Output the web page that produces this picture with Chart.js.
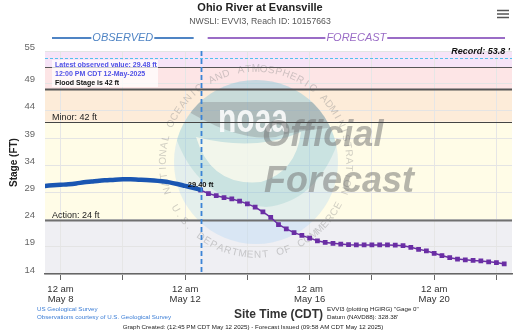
<!DOCTYPE html>
<html>
<head>
<meta charset="utf-8">
<title>Ohio River at Evansville</title>
<script src="https://cdn.jsdelivr.net/npm/chart.js@4.4.1/dist/chart.umd.min.js"></script>
<style>
  html, body { margin: 0; padding: 0; background: #fff; }
  #wrap { position: relative; width: 521px; height: 332px; }
</style>
</head>
<body>
<div id="wrap"><canvas id="stage-chart" width="521" height="332"></canvas></div>
<script>
// Hours after 12 am May 8 2025 (CDT)
const obsHours = [-12, -6, 0, 6, 12, 18, 24, 30, 36, 42, 48, 54, 60, 66, 72, 78, 84, 90, 96, 102, 108];
const obsStage = [30.2, 30.3, 30.4, 30.5, 30.65, 30.85, 31.0, 31.15, 31.25, 31.35, 31.4, 31.4, 31.35, 31.3, 31.2, 31.05, 30.85, 30.55, 30.2, 29.85, 29.48];

const fcstHours = [108, 114, 120, 126, 132, 138, 144, 150, 156, 162, 168, 174, 180, 186, 192, 198, 204, 210, 216, 222,
                   228, 234, 240, 246, 252, 258, 264, 270, 276, 282, 288, 294, 300, 306, 312, 318, 324, 330, 336, 342];
const fcstStage = [29.4, 28.8, 28.4, 28.05, 27.8, 27.4, 26.9, 26.3, 25.4, 24.4, 23.1, 22.3, 21.6, 21.1, 20.6, 20.1, 19.8, 19.65, 19.5, 19.4,
                   19.35, 19.35, 19.35, 19.35, 19.35, 19.3, 19.2, 18.9, 18.55, 18.25, 17.8, 17.4, 17.0, 16.75, 16.6, 16.5, 16.4, 16.25, 16.1, 15.85];

const yTicks = [14, 19, 24, 29, 34, 39, 44, 49, 55];
const xTickHours = [0, 48, 96, 144, 192, 240, 288, 336];

const floodCats = ['Action', 'Minor', 'Moderate', 'Major'];
const floodStages = [24, 42, 48, 52];
const labeledCats = ['Action', 'Minor'];
const recordStage = 53.8;
const bandEdges = [14, 24, 42, 48, 52, 55];

const latestObs = { value: 29.48, when: '12:00 PM CDT 12-May-2025' };

const FONT = "'Liberation Sans', Arial, sans-serif";
const BLUE = '#1a56b2';
const PURPLE = '#6a2ea4';
const bandFill = ['#efeff3', '#fffce7', '#fdecd9', '#fde5e6', '#f6e4f7'];
const lineStyle = [
  { color: '#707070', width: 2.2 },
  { color: '#444', width: 1.2 },
  { color: '#555', width: 1.8 },
  { color: '#555', width: 1.2 }
];

Chart.defaults.font.family = FONT;

function arcText(ctx, text, cx, cy, r, startDeg, endDeg, outward) {
  const step = (endDeg - startDeg) / (text.length - 1);
  for (let i = 0; i < text.length; i++) {
    const a = (startDeg + step * i) * Math.PI / 180;
    ctx.save();
    ctx.translate(cx + r * Math.cos(a), cy + r * Math.sin(a));
    ctx.rotate(outward ? a + Math.PI / 2 : a - Math.PI / 2);
    ctx.fillText(text[i], 0, 0);
    ctx.restore();
  }
}

// faded NOAA seal behind the hydrograph
function drawSeal(ctx, cx, cy) {
  const r = 82;
  ctx.save();
  ctx.beginPath();
  ctx.arc(cx, cy, r, 0, Math.PI * 2);
  ctx.clip();
  ctx.fillStyle = 'rgba(170,210,245,0.32)';
  ctx.fillRect(cx - r, cy - r, 2 * r, 2 * r);
  // teal wave
  ctx.fillStyle = 'rgba(110,185,185,0.22)';
  ctx.beginPath();
  ctx.moveTo(cx - r, cy - 30);
  ctx.quadraticCurveTo(cx - 60, cy + 40, cx + 10, cy + 45);
  ctx.quadraticCurveTo(cx + 60, cy + 40, cx + r, cy - 20);
  ctx.lineTo(cx + r, cy - r);
  ctx.lineTo(cx - r, cy - r);
  ctx.closePath();
  ctx.fill();
  // light gull body
  ctx.fillStyle = 'rgba(255,252,238,0.75)';
  ctx.beginPath();
  ctx.moveTo(cx - 60, cy - 25);
  ctx.quadraticCurveTo(cx - 45, cy + 25, cx + 5, cy + 20);
  ctx.quadraticCurveTo(cx + 40, cy + 10, cx + 45, cy - 30);
  ctx.quadraticCurveTo(cx, cy - 10, cx - 60, cy - 25);
  ctx.fill();
  // grey sky
  ctx.fillStyle = 'rgba(120,120,125,0.32)';
  ctx.beginPath();
  ctx.moveTo(cx - r, cy - 60);
  ctx.lineTo(cx + r, cy - 60);
  ctx.lineTo(cx + r, cy - 35);
  ctx.quadraticCurveTo(cx + 30, cy - 30, cx + 20, cy - 25);
  ctx.quadraticCurveTo(cx - 20, cy - 20, cx - 75, cy - 55);
  ctx.closePath();
  ctx.fill();
  ctx.restore();

  ctx.save();
  ctx.fillStyle = 'rgba(255,255,255,0.85)';
  ctx.font = `bold 30px ${FONT}`;
  ctx.textAlign = 'center';
  ctx.textBaseline = 'alphabetic';
  ctx.translate(cx - 3, cy - 30);
  ctx.scale(1, 1.35);
  ctx.fillText('noaa', 0, 0);
  ctx.restore();

  ctx.save();
  ctx.fillStyle = 'rgba(140,140,140,0.42)';
  ctx.font = `10px ${FONT}`;
  ctx.textAlign = 'center';
  ctx.textBaseline = 'middle';
  arcText(ctx, 'NATIONAL OCEANIC AND ATMOSPHERIC ADMINISTRATION', cx, cy, 93, 162, 378, true);
  arcText(ctx, 'U.S. DEPARTMENT OF COMMERCE', cx, cy, 93, 150, 28, false);
  ctx.restore();
}

const backdrop = {
  id: 'backdrop',
  beforeDraw(chart) {
    const { ctx, chartArea: a, scales: { y } } = chart;
    ctx.save();
    for (let i = 0; i < bandFill.length; i++) {
      const top = y.getPixelForValue(bandEdges[i + 1]);
      const bot = y.getPixelForValue(bandEdges[i]);
      ctx.fillStyle = bandFill[i];
      ctx.fillRect(a.left, top, a.right - a.left, bot - top);
    }
    ctx.restore();
  },
  beforeDatasetsDraw(chart) {
    const { ctx, chartArea: a, scales: { y } } = chart;
    drawSeal(ctx, 256, 162);

    ctx.save();
    ctx.fillStyle = 'rgba(115,115,115,0.52)';
    ctx.font = `italic bold 36px ${FONT}`;
    ctx.textBaseline = 'alphabetic';
    ctx.fillText('Official', 262, 146);
    ctx.fillText('Forecast', 264, 192);
    ctx.restore();

    // flood category lines
    ctx.save();
    floodStages.forEach((s, i) => {
      const py = Math.round(y.getPixelForValue(s)) + 0.5;
      ctx.strokeStyle = lineStyle[i].color;
      ctx.lineWidth = lineStyle[i].width;
      ctx.beginPath();
      ctx.moveTo(a.left, py);
      ctx.lineTo(a.right, py);
      ctx.stroke();
      if (labeledCats.includes(floodCats[i])) {
        ctx.fillStyle = '#222';
        ctx.font = `9px ${FONT}`;
        ctx.textBaseline = 'bottom';
        ctx.fillText(`${floodCats[i]}: ${s} ft`, a.left + 7, py - 0.5);
      }
    });

    // latest observation note
    ctx.fillStyle = 'rgba(255,255,255,0.72)';
    ctx.fillRect(a.left + 7, 60, 106, 27);
    ctx.textBaseline = 'middle';
    ctx.font = `bold 7px ${FONT}`;
    ctx.fillStyle = '#5050e6';
    ctx.fillText(`Latest observed value: ${latestObs.value.toFixed(2)} ft`, a.left + 10, 65);
    ctx.fillText(latestObs.when, a.left + 10, 74);
    ctx.fillStyle = '#111';
    ctx.fillText(`Flood Stage is ${floodStages[floodCats.indexOf('Minor')]} ft`, a.left + 10, 83);

    // record crest
    const ry = Math.round(y.getPixelForValue(recordStage)) + 0.5;
    ctx.strokeStyle = '#52c0ee';
    ctx.lineWidth = 1.2;
    ctx.setLineDash([3, 2]);
    ctx.beginPath();
    ctx.moveTo(a.left, ry);
    ctx.lineTo(a.right, ry);
    ctx.stroke();
    ctx.setLineDash([]);
    ctx.fillStyle = '#111';
    ctx.font = `italic bold 9px ${FONT}`;
    ctx.textAlign = 'right';
    ctx.fillText(`Record: ${recordStage} '`, a.right - 2, 52);
    ctx.restore();
  },
  afterDatasetsDraw(chart) {
    const { ctx, chartArea: a, scales: { x } } = chart;
    ctx.save();
    const vx = Math.round(x.getPixelForValue(obsHours[obsHours.length - 1])) + 0.5;
    ctx.strokeStyle = '#3b84d6';
    ctx.lineWidth = 1.8;
    ctx.setLineDash([5, 3]);
    ctx.beginPath();
    ctx.moveTo(vx, a.top);
    ctx.lineTo(vx, a.bottom);
    ctx.stroke();
    ctx.setLineDash([]);

    const pt = chart.getDatasetMeta(1).data[0];
    ctx.fillStyle = '#111';
    ctx.font = `bold 7.5px ${FONT}`;
    ctx.textAlign = 'center';
    ctx.textBaseline = 'bottom';
    ctx.fillText(`${fcstStage[0].toFixed(2)} ft`, pt.x, pt.y - 2);
    ctx.restore();
  },
  afterDraw(chart) {
    const { ctx, chartArea: a } = chart;
    ctx.save();
    ctx.textBaseline = 'middle';
    ctx.textAlign = 'center';
    ctx.fillStyle = '#222';
    ctx.font = `bold 11px ${FONT}`;
    ctx.fillText('Ohio River at Evansville', 260, 8);
    ctx.fillStyle = '#555';
    ctx.font = `8.7px ${FONT}`;
    ctx.fillText('NWSLI: EVVI3, Reach ID: 10157663', 260, 22);

    // observed / forecast header
    const split = chart.scales.x.getPixelForValue(obsHours[obsHours.length - 1]);
    const header = (label, color, x0, x1) => {
      ctx.font = `italic 11px ${FONT}`;
      const w = ctx.measureText(label).width;
      const mid = (x0 + x1) / 2;
      ctx.strokeStyle = color;
      ctx.fillStyle = color;
      ctx.lineWidth = 2;
      ctx.beginPath();
      ctx.moveTo(x0, 38); ctx.lineTo(mid - w / 2 - 1, 38);
      ctx.moveTo(mid + w / 2 + 1, 38); ctx.lineTo(x1, 38);
      ctx.stroke();
      ctx.fillText(label, mid, 38);
    };
    header('OBSERVED', '#4f84c4', a.left + 7, split - 7);
    header('FORECAST', '#9a6cc6', split + 7, a.right - 7);

    // menu icon
    ctx.strokeStyle = '#555';
    ctx.lineWidth = 1.6;
    ctx.beginPath();
    [10.5, 14, 17.5].forEach(hy => { ctx.moveTo(497, hy); ctx.lineTo(509, hy); });
    ctx.stroke();

    ctx.textAlign = 'left';
    ctx.font = `6.2px ${FONT}`;
    ctx.fillStyle = '#3c7ed6';
    ctx.fillText('US Geological Survey', 37, 309);
    ctx.fillText('Observations courtesy of U.S. Geological Survey', 37, 317);
    ctx.fillStyle = '#222';
    ctx.fillText('EVVI3 (plotting HGIRG) "Gage 0"', 327, 309);
    ctx.fillText("Datum (NAVD88): 328.38'", 327, 317);
    ctx.textAlign = 'center';
    ctx.fillText('Graph Created: (12:45 PM CDT May 12 2025) - Forecast Issued (09:58 AM CDT May 12 2025)', 253, 327);
    ctx.restore();
  }
};

new Chart(document.getElementById('stage-chart'), {
  type: 'line',
  data: {
    datasets: [
      {
        label: 'Observed',
        data: obsHours.map((h, i) => ({ x: h, y: obsStage[i] })),
        borderColor: BLUE,
        borderWidth: 4.5,
        borderCapStyle: 'round',
        pointRadius: 0,
        cubicInterpolationMode: 'monotone'
      },
      {
        label: 'Forecast',
        data: fcstHours.map((h, i) => ({ x: h, y: fcstStage[i] })),
        borderColor: PURPLE,
        backgroundColor: PURPLE,
        borderWidth: 1.5,
        pointStyle: 'rect',
        pointRadius: 2.3,
        tension: 0
      }
    ]
  },
  options: {
    responsive: false,
    animation: false,
    layout: { padding: { top: 51, right: 9, left: 0, bottom: 0 } },
    plugins: { legend: { display: false }, tooltip: { enabled: false } },
    scales: {
      x: {
        type: 'linear',
        min: -12,
        max: 348,
        afterBuildTicks: s => { s.ticks = xTickHours.map(v => ({ value: v })); },
        afterFit: s => { s.height = 58; },
        grid: { color: '#e6e6e6', tickColor: '#666', tickLength: 6 },
        border: { color: '#666', width: 1.5 },
        ticks: {
          color: '#333',
          font: { size: 9.5, lineHeight: 1.1 },
          padding: 4,
          maxRotation: 0,
          autoSkip: false,
          callback: v => (v % 96 === 0 ? ['12 am', 'May ' + (8 + v / 24)] : '')
        },
        title: {
          display: true,
          text: 'Site Time (CDT)',
          color: '#333',
          font: { size: 12, weight: 'bold' },
          padding: { top: 0, bottom: 10 }
        }
      },
      y: {
        min: 14,
        max: 55,
        afterBuildTicks: s => { s.ticks = yTicks.map(v => ({ value: v })); },
        afterFit: s => { s.width = 45; },
        grid: { color: '#e4e4e4', drawTicks: false },
        border: { display: false },
        ticks: { color: '#666', font: { size: 9.5 }, padding: 10, labelOffset: -4 },
        title: {
          display: true,
          text: 'Stage (FT)',
          color: '#222',
          font: { size: 10, weight: 'bold' },
          padding: { top: 8, bottom: 0 }
        }
      }
    }
  },
  plugins: [backdrop]
});
</script>
</body>
</html>
